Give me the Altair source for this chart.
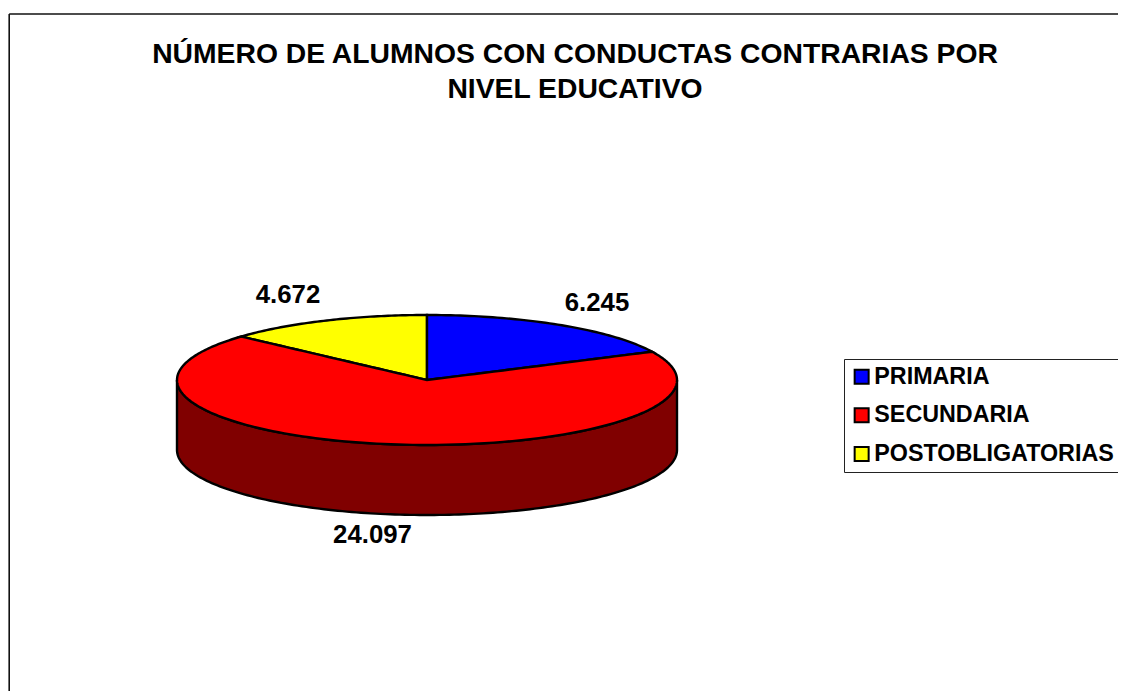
import numpy as np
import pandas as pd
import altair as alt

CATEGORIES = ["PRIMARIA", "SECUNDARIA", "POSTOBLIGATORIAS"]
VALUES = [6245, 24097, 4672]
VALUE_LABELS = ["6.245", "24.097", "4.672"]
COLORS = ["#0000FF", "#FF0000", "#FFFF00"]
WALL_COLOR = "#800000"
TITLE_LINES = ["NÚMERO DE ALUMNOS CON CONDUCTAS CONTRARIAS POR", "NIVEL EDUCATIVO"]
FONT = "Liberation Sans"

# all geometry in page pixels, minus the 8px page margin
W, H = 1110, 683
CX, CY, RX, RY, DEPTH = 419, 372, 250, 65, 70

total = sum(VALUES)
a_blue = 2 * np.pi * VALUES[0] / total
a_yellow = -2 * np.pi * VALUES[2] / total


def ex(a):
    return CX + RX * np.sin(a)


def etop(a):
    return CY - RY * np.cos(a)


def spoke(x, a):
    return CY + (etop(a) - CY) * (x - CX) / (ex(a) - CX)


rows = []
# yellow slice
for a in np.linspace(a_yellow, 0, 60):
    x = ex(a)
    rows.append(dict(cat=CATEGORIES[2], x=x, y=etop(a), y2=spoke(x, a_yellow)))
# blue slice
for a in np.linspace(0, a_blue, 60):
    x = ex(a)
    rows.append(dict(cat=CATEGORIES[0], x=x, y=etop(a), y2=spoke(x, a_blue)))
# red slice: front half of the ellipse, upper edge follows the rim and the two spokes
angles = np.unique(np.concatenate([
    np.linspace(-np.pi / 2, a_yellow, 50),
    np.linspace(a_yellow, 0, 30),
    np.linspace(0, a_blue, 30),
    np.linspace(a_blue, np.pi / 2, 50),
]))
for a in angles:
    x = ex(a)
    if a < a_yellow or a > a_blue:
        top = etop(a)
    elif a < 0:
        top = spoke(x, a_yellow)
    elif a > 0:
        top = spoke(x, a_blue)
    else:
        top = CY
    rows.append(dict(cat=CATEGORIES[1], x=x, y=top, y2=CY + RY * np.cos(a)))
slices = pd.DataFrame(rows)

wall_a = np.linspace(-np.pi / 2, np.pi / 2, 160)
wall = pd.DataFrame(dict(
    x=ex(wall_a),
    y=CY + RY * np.cos(wall_a),
    y2=CY + RY * np.cos(wall_a) + DEPTH,
))

xs = alt.Scale(domain=[0, W], range=[0, W], nice=False, zero=False)
ys = alt.Scale(domain=[0, H], range=[0, H], nice=False, zero=False)
X = alt.X("x:Q", scale=xs, axis=None)
Y = alt.Y("y:Q", scale=ys, axis=None)

frame = alt.Chart(pd.DataFrame(dict(
    x=[1.2, 1.2], x2=[1.2, W], y=[6, 6], y2=[H, 6],
))).mark_rule(stroke="#111111", strokeWidth=1.6).encode(X, x2="x2:Q", y=Y, y2="y2:Q")

wall_layer = alt.Chart(wall).mark_area(
    color=WALL_COLOR, stroke="black", strokeWidth=2.4
).encode(X, Y, y2="y2:Q")

top_layer = alt.Chart(slices).mark_area(
    stroke="black", strokeWidth=2.4, opacity=1
).encode(
    X, Y, y2="y2:Q",
    fill=alt.Fill(
        "cat:N",
        sort=CATEGORIES,
        scale=alt.Scale(domain=CATEGORIES, range=COLORS),
        legend=alt.Legend(
            orient="none", legendX=836, legendY=351, title=None,
            strokeColor="#222222", fillColor="white", padding=6,
            symbolType="square", symbolSize=196, symbolStrokeColor="black",
            symbolStrokeWidth=2, symbolOpacity=1,
            labelFont=FONT, labelFontSize=23.3, labelFontWeight="bold", labelColor="black",
            labelOffset=1, rowPadding=14.7, labelLimit=400,
        ),
    ),
)

labels = alt.Chart(pd.DataFrame(dict(
    t=VALUE_LABELS, x=[589, 364.5, 280], y=[295, 527, 287],
))).mark_text(
    font=FONT, fontSize=25.8, fontWeight="bold", color="black", baseline="middle", align="center"
).encode(X, Y, text="t:N")

title = alt.Chart(pd.DataFrame(dict(t=TITLE_LINES, x=[567, 567], y=[47, 81.5]))).mark_text(
    font=FONT, fontSize=28.3, fontWeight="bold", color="black", baseline="middle", align="center"
).encode(X, Y, text="t:N")

chart = alt.layer(frame, wall_layer, top_layer, labels, title).properties(
    width=W, height=H, padding=0, autosize=alt.AutoSizeParams(type="none")
).configure_view(stroke=None)

chart.save("out.html", embed_options={"renderer": "svg", "actions": False})
